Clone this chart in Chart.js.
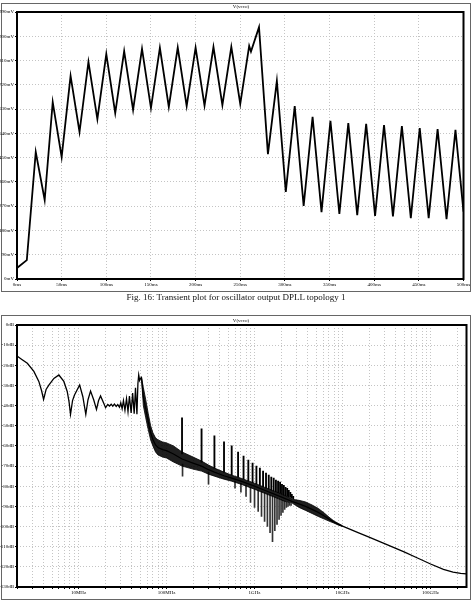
<!DOCTYPE html>
<html><head><meta charset="utf-8">
<script src="https://cdn.jsdelivr.net/npm/chart.js@4.4.0/dist/chart.umd.min.js"></script>
<style>
html,body{margin:0;padding:0;background:#fff;}
body{width:472px;height:600px;position:relative;overflow:hidden;font-family:"Liberation Serif","DejaVu Serif",serif;}
.box{position:absolute;border:1px solid #666;box-sizing:border-box;}
.ttl{position:absolute;font-size:5px;line-height:5px;color:#000;transform:translateX(-50%);white-space:nowrap;}
canvas{position:absolute;left:0;}
#cap{position:absolute;top:292px;left:0;width:472px;text-align:center;font-size:9px;line-height:11px;color:#111;}
</style></head>
<body>
<div class="box" style="left:1px;top:3px;width:470px;height:289px;"></div>
<div class="box" style="left:1px;top:315px;width:470px;height:285px;"></div>
<canvas id="c1" width="472" height="292" style="top:0px;"></canvas>
<canvas id="c2" width="472" height="287" style="top:313px;"></canvas>
<div class="ttl" style="left:241px;top:4px;">V(vcco)</div>
<div class="ttl" style="left:241px;top:318px;">V(vcco)</div>
<div id="cap">Fig. 16: Transient plot for oscillator output DPLL topology 1</div>
<script>
// ---------- Transient (top) ----------
const tranTimeMs = [0,11,21,31,40,50,60,70,80,90,100,110,120,130,140,150,160,170,180,190,200,210,220,230,240,250,260,262,271,281,291,301,311,321,331,341,351,361,371,381,391,401,411,421,431,441,451,461,471,481,491,500];
const tranMv     = [41,70,471,293,656,452,753,545,805,593,834,615,845,627,853,634,857,638,858,641,858,643,860,645,861,649,864,843,934,463,734,323,641,271,601,248,586,241,578,237,575,234,571,232,567,226,560,226,556,222,553,250];
const tranMsTicks = [0,50,100,150,200,250,300,350,400,450,500];
const tranMvTicks = [0,90,180,270,360,450,540,630,720,810,900,990];

// ---------- FFT (bottom) ----------
const fftMainHz = [2.0e6,2.25e6,2.62e6,3.11e6,3.54e6,3.8e6,4.01e6,4.28e6,4.6e6,5.25e6,5.98e6,6.81e6,7.44e6,7.8e6,8.11e6,8.55e6,9.0e6,
  1.03e7,1.12e7,1.21e7,1.28e7,1.37e7,1.49e7,1.6e7,1.69e7,1.78e7,1.94e7,2.03e7,2.15e7,2.25e7,2.35e7,2.45e7,2.56e7,2.68e7,2.79e7,2.92e7,
  3.02e7,3.13e7,3.24e7,3.37e7,3.51e7,3.65e7,3.79e7,3.96e7,4.12e7,4.29e7,4.44e7,4.61e7,4.73e7,4.83e7,4.95e7,5.06e7,5.19e7,
  5.45e7,5.8e7,6.2e7,6.6e7,7.0e7,7.5e7,8.0e7,9.0e7,1.0e8,1.2e8,1.5e8,2.0e8,2.5e8,3.0e8,3.5e8,4.5e8,5.5e8,7.0e8,
  1.0e9,1.3e9,1.7e9,2.2e9,2.7e9,3.2e9,3.8e9,4.5e9,5.3e9,6.2e9,7.0e9,8.0e9,9.0e9,
  1.0e10,1.5e10,2.0e10,3.0e10,5.0e10,7.0e10,1.0e11,1.4e11,1.8e11,2.2e11,2.56e11];
const fftMainDb = [-15.4,-17,-19,-23,-28,-32.5,-36.9,-32,-29.8,-26.5,-24.8,-28,-33,-38,-44.3,-37.5,-34.7,
  -29.8,-35.6,-44.3,-37.2,-32.8,-37.2,-41.9,-37.5,-35.2,-38.9,-41,-39.4,-40.2,-39.3,-40.3,-39.2,-40.4,-39.5,-40.8,
  -38.6,-41.5,-37.5,-42.3,-36.6,-43,-35.2,-43.6,-33.8,-44,-31.2,-44.3,-29,-24.8,-27.5,-26.5,-26,
  -35.5,-41.5,-48,-53.5,-56.8,-59.5,-60.8,-61.8,-62.3,-64,-66.5,-68.5,-70,-71.8,-73,-74.8,-76,-77.5,
  -80,-82,-84,-86,-87.6,-88.8,-90,-91.5,-93,-94.8,-96.3,-97.8,-98.9,
  -99.8,-103,-105.3,-108.5,-112.6,-115.5,-118.6,-121.2,-122.6,-123.2,-123.5];

// noisy band envelope (upper / lower edge)
const fftBandHz   = [5.19e7,5.45e7,5.8e7,6.2e7,6.6e7,7.0e7,7.5e7,8.0e7,9.0e7,1.0e8,1.2e8,1.5e8,2.0e8,2.5e8,3.0e8,3.5e8,4.5e8,5.5e8,7.0e8,1.0e9,1.3e9,1.7e9,2.2e9,2.7e9,3.2e9,3.8e9,4.5e9,5.3e9,6.2e9,7.0e9,8.0e9,9.0e9,1.0e10];
const fftBandHiDb = [-26,-31,-37,-44,-50,-53.5,-56,-57,-58,-58.5,-60,-63,-65.5,-67.5,-69.5,-71,-73,-74.5,-76,-78.5,-80.5,-82.5,-84.5,-86.5,-87,-87.8,-89.3,-91,-93.3,-95.3,-97.3,-98.5,-99.6];
const fftBandLoDb = [-26,-40,-46,-52,-57,-60,-63,-64.5,-65.5,-66,-68,-70,-71.5,-72.5,-74,-75,-76.5,-77.5,-79,-81.5,-83.5,-85.5,-87.5,-88.5,-90.5,-92,-93.5,-95,-96.3,-97.3,-98.3,-99.3,-100];

// odd harmonic spikes (upward)
const fftHarmHz     = [1.5e8,2.5e8,3.5e8,4.5e8,5.5e8,6.5e8,7.5e8,8.5e8,9.5e8,1.05e9,1.15e9,1.25e9,1.35e9,1.45e9,1.55e9,1.65e9,1.75e9,1.85e9,1.95e9,2.05e9,2.15e9,2.25e9,2.35e9,2.45e9,2.55e9,2.65e9,2.75e9];
const fftHarmTopDb  = [-46,-51.5,-55,-58,-60,-63,-65,-67,-68.5,-70,-71,-72.5,-73.5,-74.5,-75.5,-76,-77,-77.5,-78,-79,-79.5,-80.5,-81,-82,-83,-84,-85];
const fftHarmBaseDb = [-64,-68,-71,-73,-74.5,-75.5,-76.5,-77.5,-78.2,-78.8,-79.5,-80.2,-80.8,-81.3,-81.8,-82.3,-82.7,-83.2,-83.6,-84,-84.4,-84.7,-85,-85.3,-85.6,-85.9,-86.2];
// downward notches
const fftNullHz     = [1.52e8,3.0e8,6.0e8,7.0e8,8.0e8,9.0e8,1.0e9,1.1e9,1.2e9,1.3e9,1.4e9,1.5e9,1.6e9,1.7e9,1.8e9,1.9e9,2.0e9,2.1e9,2.2e9,2.3e9,2.4e9,2.5e9,2.6e9];
const fftNullDb     = [-75,-79,-81,-83,-85,-88,-90.5,-92.5,-95,-97.5,-100,-103,-107.5,-102,-99,-96.5,-94.5,-93,-91.5,-90.5,-90,-89.5,-89.5];
const fftNullBaseDb = [-69,-73,-77.5,-78.5,-79.5,-80.5,-81.3,-82,-82.6,-83.2,-83.8,-84.3,-84.8,-85.3,-85.8,-86.2,-86.6,-87,-87.4,-87.8,-88.1,-88.4,-88.7];

const fftTickHz = [2e6,3e6,4e6,5e6,6e6,7e6,8e6,9e6,1e7,2e7,3e7,4e7,5e7,6e7,7e7,8e7,9e7,1e8,2e8,3e8,4e8,5e8,6e8,7e8,8e8,9e8,1e9,2e9,3e9,4e9,5e9,6e9,7e9,8e9,9e9,1e10,2e10,3e10,4e10,5e10,6e10,7e10,8e10,9e10,1e11,2e11];
const fftMajorHz = [1e7,1e8,1e9,1e10,1e11];
const fftMajorLabels = ["10MHz","100MHz","1GHz","10GHz","100GHz"];
const fftDbTicks = [0,-10,-20,-30,-40,-50,-60,-70,-80,-90,-100,-110,-120,-130];

// ---------- shared styling ----------
const tickFont = {family:"Liberation Serif", size:5};
const frame = {id:'frame', afterDatasetsDraw(chart){
  const {ctx, chartArea:a} = chart;
  ctx.save(); ctx.strokeStyle='#000'; ctx.lineWidth=2;
  ctx.strokeRect(a.left, a.top, a.right-a.left, a.bottom-a.top); ctx.restore();
}};
function gridOpts(){ return {color:'#c4c4c4', lineWidth:1, drawTicks:true, tickLength:2, tickColor:'#000', tickBorderDash:[]}; }
function borderOpts(){ return {display:false, dash:[1,2]}; }

new Chart(document.getElementById('c1'), {
  type:'line',
  data:{ datasets:[{
    data: tranTimeMs.map((t,i)=>({x:t, y:tranMv[i]})),
    borderColor:'#000', borderWidth:1.8, pointRadius:0, tension:0, fill:false
  }]},
  options:{
    responsive:false, animation:false, events:[],
    layout:{padding:{top:12, right:8.5, left:0, bottom:0}},
    plugins:{legend:{display:false}, tooltip:{enabled:false}},
    scales:{
      x:{type:'linear', min:0, max:500, offset:false,
        afterBuildTicks(s){ s.ticks = tranMsTicks.map(v=>({value:v})); },
        afterFit(s){ s.height = 13; },
        ticks:{font:tickFont, color:'#000', padding:1, maxRotation:0, autoSkip:false, callback:v=>v+'ms'},
        grid:gridOpts(), border:borderOpts()},
      y:{type:'linear', min:0, max:990,
        afterBuildTicks(s){ s.ticks = tranMvTicks.map(v=>({value:v})); },
        afterFit(s){ s.width = 17; },
        ticks:{font:tickFont, color:'#000', padding:1, autoSkip:false, callback:v=>v+'mV'},
        grid:gridOpts(), border:borderOpts()}
    }
  },
  plugins:[frame]
});

new Chart(document.getElementById('c2'), {
  type:'line',
  data:{ datasets:[
    {data: fftMainHz.map((f,i)=>({x:f, y:fftMainDb[i]})), borderColor:'#000', borderWidth:1.3, pointRadius:0, tension:0, fill:false},
    {data: fftBandHz.map((f,i)=>({x:f, y:fftBandHiDb[i]})), borderColor:'#000', borderWidth:0.8, pointRadius:0, tension:0, fill:false},
    {data: fftBandHz.map((f,i)=>({x:f, y:fftBandLoDb[i]})), borderColor:'#000', borderWidth:0.8, pointRadius:0, tension:0, fill:'-1', backgroundColor:'rgba(0,0,0,0.88)'},
    {type:'bar', data: fftHarmHz.map((f,i)=>({x:f, y:[fftHarmBaseDb[i], fftHarmTopDb[i]]})), backgroundColor:'#000', borderWidth:0, barThickness:1.2, grouped:false},
    {type:'bar', data: fftNullHz.map((f,i)=>({x:f, y:[fftNullDb[i], fftNullBaseDb[i]]})), backgroundColor:'#333', borderWidth:0, barThickness:1, grouped:false}
  ]},
  options:{
    responsive:false, animation:false, events:[],
    layout:{padding:{top:12, right:5.5, left:0, bottom:0}},
    plugins:{legend:{display:false}, tooltip:{enabled:false}},
    scales:{
      x:{type:'logarithmic', min:2e6, max:2.56e11, offset:false,
        afterBuildTicks(s){ s.ticks = fftTickHz.map(v=>({value:v})); },
        afterFit(s){ s.height = 13; },
        ticks:{font:tickFont, color:'#000', padding:1, maxRotation:0, autoSkip:false,
          callback:v=>{ const k = fftMajorHz.indexOf(v); return k>=0 ? fftMajorLabels[k] : ''; }},
        grid:Object.assign(gridOpts(), {offset:false}), border:borderOpts()},
      y:{type:'linear', min:-130, max:0,
        afterBuildTicks(s){ s.ticks = fftDbTicks.map(v=>({value:v})); },
        afterFit(s){ s.width = 17; },
        ticks:{font:tickFont, color:'#000', padding:1, autoSkip:false, callback:v=>v+'dB'},
        grid:gridOpts(), border:borderOpts()}
    }
  },
  plugins:[frame]
});
</script>
</body></html>
